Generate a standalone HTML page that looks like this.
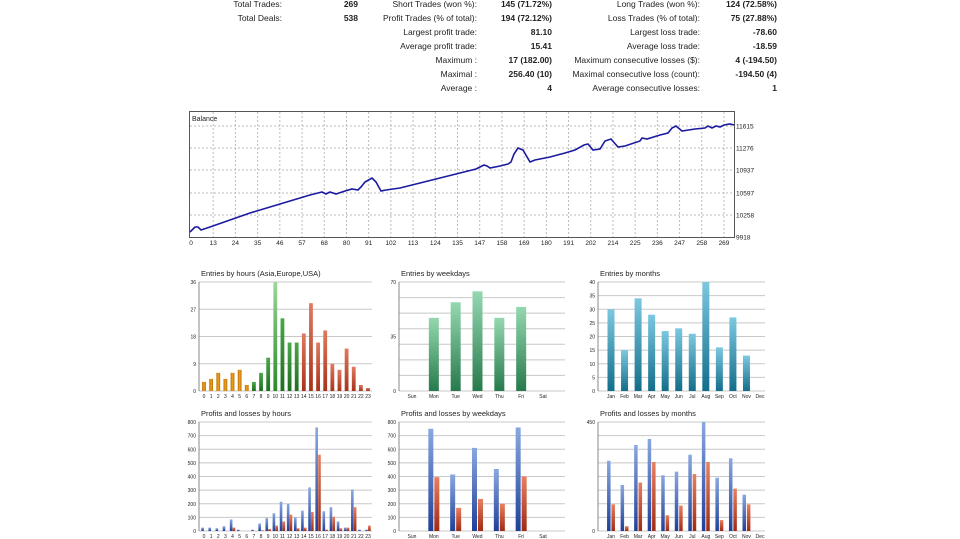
<!DOCTYPE html>
<html><head><meta charset="utf-8"><style>
html,body{margin:0;padding:0;background:#fff;width:960px;height:539px;overflow:hidden}
svg{display:block;font-family:"Liberation Sans",sans-serif}
</style></head><body>
<svg id="s" width="960" height="539" xmlns="http://www.w3.org/2000/svg">
<defs>
<linearGradient id="gO" x1="0" y1="0" x2="1" y2="0"><stop offset="0" stop-color="#b86f00"/><stop offset=".5" stop-color="#f0a020"/><stop offset="1" stop-color="#b86f00"/></linearGradient>
<linearGradient id="gG" x1="0" y1="0" x2="0" y2="1"><stop offset="0" stop-color="#4aa84a"/><stop offset="1" stop-color="#1e6e1e"/></linearGradient>
<linearGradient id="gG2" x1="0" y1="0" x2="0" y2="1"><stop offset="0" stop-color="#9ad89a"/><stop offset="1" stop-color="#2a8a2a"/></linearGradient>
<linearGradient id="gR" x1="0" y1="0" x2="0" y2="1"><stop offset="0" stop-color="#e07a60"/><stop offset="1" stop-color="#a8321a"/></linearGradient>
<linearGradient id="gW" x1="0" y1="0" x2="0" y2="1"><stop offset="0" stop-color="#95d8b0"/><stop offset="1" stop-color="#277a4c"/></linearGradient>
<linearGradient id="gM" x1="0" y1="0" x2="0" y2="1"><stop offset="0" stop-color="#7cc8e0"/><stop offset="1" stop-color="#136e8a"/></linearGradient>
<linearGradient id="gB" x1="0" y1="0" x2="0" y2="1"><stop offset="0" stop-color="#8aa8e0"/><stop offset="1" stop-color="#1f3f98"/></linearGradient>
<linearGradient id="gL" x1="0" y1="0" x2="0" y2="1"><stop offset="0" stop-color="#e88060"/><stop offset="1" stop-color="#a02a14"/></linearGradient>
</defs>
<g font-size="8.5" fill="#222" text-anchor="end">
<text x="282" y="7">Total Trades:</text><text x="358" y="7" font-weight="bold">269</text>
<text x="477" y="7">Short Trades (won %):</text><text x="552" y="7" font-weight="bold">145 (71.72%)</text>
<text x="700" y="7">Long Trades (won %):</text><text x="777" y="7" font-weight="bold">124 (72.58%)</text>
<text x="282" y="21">Total Deals:</text><text x="358" y="21" font-weight="bold">538</text>
<text x="477" y="21">Profit Trades (% of total):</text><text x="552" y="21" font-weight="bold">194 (72.12%)</text>
<text x="700" y="21">Loss Trades (% of total):</text><text x="777" y="21" font-weight="bold">75 (27.88%)</text>
<text x="477" y="35">Largest profit trade:</text><text x="552" y="35" font-weight="bold">81.10</text>
<text x="700" y="35">Largest loss trade:</text><text x="777" y="35" font-weight="bold">-78.60</text>
<text x="477" y="49">Average profit trade:</text><text x="552" y="49" font-weight="bold">15.41</text>
<text x="700" y="49">Average loss trade:</text><text x="777" y="49" font-weight="bold">-18.59</text>
<text x="477" y="63">Maximum :</text><text x="552" y="63" font-weight="bold">17 (182.00)</text>
<text x="700" y="63">Maximum consecutive losses ($):</text><text x="777" y="63" font-weight="bold">4 (-194.50)</text>
<text x="477" y="77">Maximal :</text><text x="552" y="77" font-weight="bold">256.40 (10)</text>
<text x="700" y="77">Maximal consecutive loss (count):</text><text x="777" y="77" font-weight="bold">-194.50 (4)</text>
<text x="477" y="91">Average :</text><text x="552" y="91" font-weight="bold">4</text>
<text x="700" y="91">Average consecutive losses:</text><text x="777" y="91" font-weight="bold">1</text>
</g>
<rect x="189.5" y="111.5" width="545" height="126" fill="#fff" stroke="#555"/>
<g id="bal"></g>
<text x="192" y="121" font-size="7" fill="#222">Balance</text>
<polyline fill="none" stroke="#1a1aa0" stroke-width="1.6" points="190,232 195,227 198,227 201,230 210,227 230,220 250,213 270,207 290,201 300,198 310,195 318,193 322,192 326,194 330,192 336,194 345,191 352,189 358,190 361,187 365,182 372,178 376,182 381,191 386,190 400,188 420,183 440,178 460,173 476,169 484,165 487,166 490,168 500,166 508,164 511,162 514,154 518,148 523,150 530,162 535,160 550,157 565,153 575,150 584,145 588,144 593,150 600,149 605,141 611,139 618,147 625,146 640,141 642,138 647,139 660,135 668,133 672,128 676,126 682,131 695,129 705,128 708,126 712,128 716,126 720,127 724,125 730,124 734,125"/>
<g id="charts"></g>
</svg>
<script>
var NS="http://www.w3.org/2000/svg";
function el(p,t,a,txt){var e=document.createElementNS(NS,t);for(var k in a)e.setAttribute(k,a[k]);if(txt!=null)e.textContent=txt;p.appendChild(e);return e;}
var bal=document.getElementById('bal');
var xl=[0,13,24,35,46,57,68,80,91,102,113,124,135,147,158,169,180,191,202,214,225,236,247,258,269];
xl.forEach(function(v,i){var x=191+i*(533/24);
 if(i>0)el(bal,'line',{x1:x,x2:x,y1:112,y2:237,stroke:'#bbb','stroke-dasharray':'2,2'});
 el(bal,'text',{x:x,y:245,'font-size':6.5,'text-anchor':'middle',fill:'#222'},v);});
[[11615,126],[11276,148],[10937,170],[10597,193],[10258,215],[9918,237]].forEach(function(a){
 if(a[0]!=9918)el(bal,'line',{x1:190,x2:734,y1:a[1],y2:a[1],stroke:'#bbb','stroke-dasharray':'2,2'});
 el(bal,'text',{x:736,y:a[1]+2.5,'font-size':6.5,fill:'#222'},a[0]);});
var C=document.getElementById('charts');
function chart(o){
 var g=el(C,'g',{});
 el(g,'text',{x:o.x0+2,y:o.yt-6,'font-size':7.5,fill:'#222'},o.title);
 for(var i=0;i<=o.ng;i++){var y=o.yb-(o.yb-o.yt)*i/o.ng;
  el(g,'line',{x1:o.x0,x2:o.x1,y1:y,y2:y,stroke:'#c8c8c8','stroke-width':1});}
 o.yl.forEach(function(v){var y=o.yb-(o.yb-o.yt)*v/o.max;el(g,'text',{x:o.x0-3,y:y+2,'font-size':5,'text-anchor':'end',fill:'#222'},v);});
 el(g,'line',{x1:o.x0,x2:o.x0,y1:o.yt,y2:o.yb,stroke:'#888'});
 var st=(o.cl-o.cf)/(o.cats.length-1);
 o.cats.forEach(function(c,i){var cx=o.cf+i*st;
  el(g,'text',{x:cx,y:o.yb+7,'font-size':5,'text-anchor':'middle',fill:'#222'},c);
  o.series.forEach(function(s){var v=s.d[i];if(!v)return;var h=(o.yb-o.yt)*v/o.max;
   el(g,'rect',{x:cx+s.off-s.w/2,y:o.yb-h,width:s.w,height:h,fill:typeof s.f=='function'?s.f(i):s.f});});});
}
var H=[];for(var i=0;i<24;i++)H.push(i);
chart({title:'Entries by hours (Asia,Europe,USA)',x0:199,x1:372,yt:282,yb:391,max:36,ng:4,yl:[0,9,18,27,36],cats:H,cf:204,cl:368,
 series:[{d:[3,4,6,4,6,7,2,3,6,11,36,24,16,16,19,29,16,20,9,7,14,8,2,1],w:3.8,off:0,f:function(i){return i<7?'url(#gO)':i==10?'url(#gG2)':i<14?'url(#gG)':'url(#gR)';}}]});
var W=['Sun','Mon','Tue','Wed','Thu','Fri','Sat'];
chart({title:'Entries by weekdays',x0:399,x1:565,yt:282,yb:391,max:70,ng:7,yl:[0,35,70],cats:W,cf:412,cl:543,
 series:[{d:[0,47,57,64,47,54,0],w:10,off:0,f:'url(#gW)'}]});
var M=['Jan','Feb','Mar','Apr','May','Jun','Jul','Aug','Sep','Oct','Nov','Dec'];
chart({title:'Entries by months',x0:598,x1:765,yt:282,yb:391,max:40,ng:8,yl:[0,5,10,15,20,25,30,35,40],cats:M,cf:611,cl:760,
 series:[{d:[30,15,34,28,22,23,21,40,16,27,13,0],w:7,off:0,f:'url(#gM)'}]});
chart({title:'Profits and losses by hours',x0:199,x1:372,yt:422,yb:531,max:800,ng:8,yl:[0,100,200,300,400,500,600,700,800],cats:H,cf:204,cl:368,
 series:[{d:[25,25,20,35,85,10,0,10,55,95,130,215,200,100,150,320,760,145,175,70,25,305,10,10],w:2.6,off:-1.4,f:'url(#gB)'},
 {d:[0,0,0,0,25,0,0,0,5,15,40,70,120,20,25,140,560,10,105,20,25,175,0,40],w:2.6,off:1.4,f:'url(#gL)'}]});
chart({title:'Profits and losses by weekdays',x0:399,x1:565,yt:422,yb:531,max:800,ng:8,yl:[0,100,200,300,400,500,600,700,800],cats:W,cf:412,cl:543,
 series:[{d:[0,750,415,610,455,760,0],w:5,off:-3,f:'url(#gB)'},{d:[0,395,170,235,200,400,0],w:5,off:3,f:'url(#gL)'}]});
chart({title:'Profits and losses by months',x0:598,x1:765,yt:422,yb:531,max:450,ng:8,yl:[0,450],cats:M,cf:611,cl:760,
 series:[{d:[290,190,355,380,230,245,315,450,220,300,150,0],w:3.5,off:-2.2,f:'url(#gB)'},{d:[110,20,200,285,65,105,235,285,45,175,110,0],w:3.5,off:2.2,f:'url(#gL)'}]});
</script>
</body></html>
